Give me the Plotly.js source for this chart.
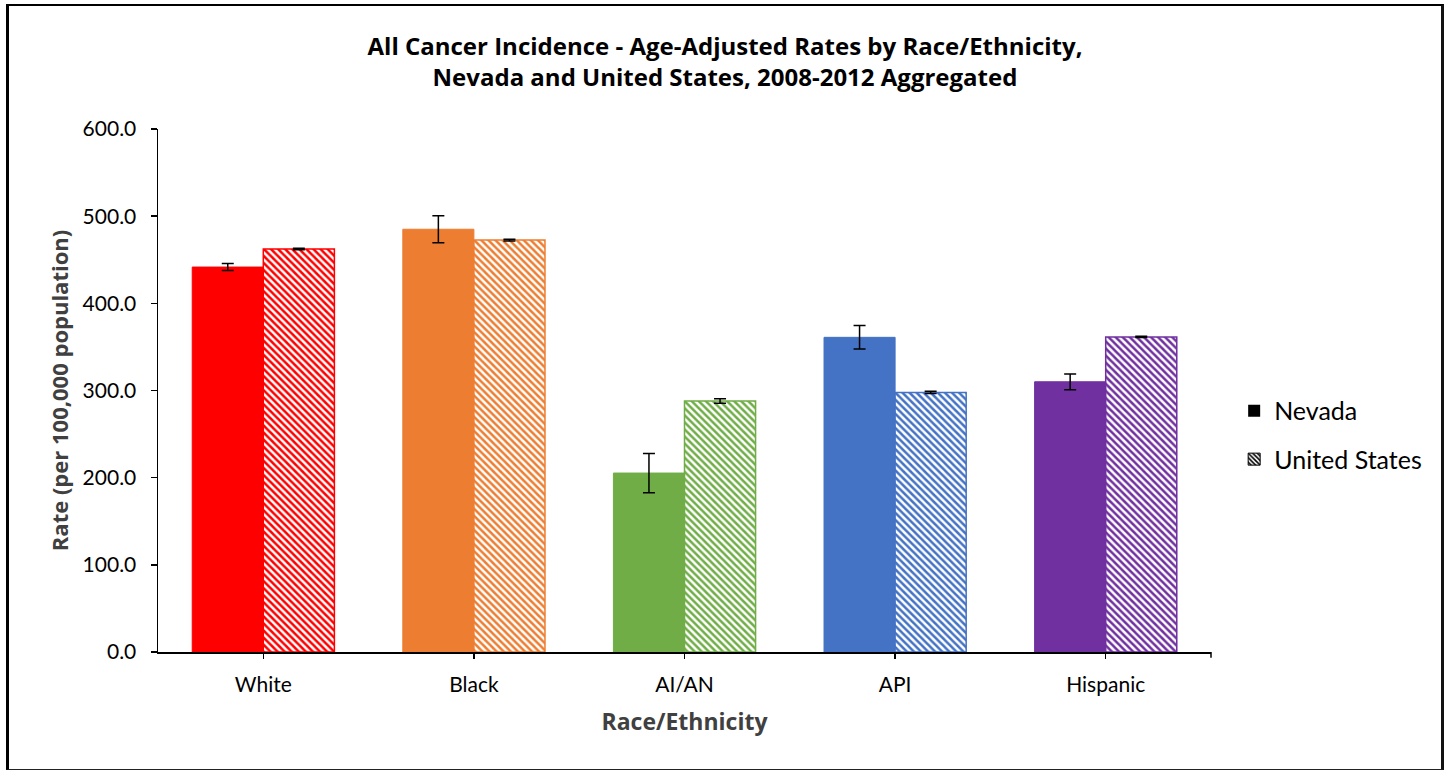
<!DOCTYPE html>
<html>
<head>
<meta charset="utf-8">
<script src="https://cdn.plot.ly/plotly-3.0.1.min.js"></script>
<style>
  html, body { margin: 0; padding: 0; background: #fff; }
  #wrap { position: relative; width: 1450px; height: 771px; }
  #chart { position: absolute; left: 0; top: 0; width: 1450px; height: 771px; }
  #frame { position: absolute; left: 6px; top: 4px; width: 1438px; height: 766px;
           border-left: 3px solid #000; border-top: 2px solid #000; border-right: 3px solid #111; border-bottom: 1px solid #222;
           box-sizing: border-box; pointer-events: none; }
</style>
</head>
<body>
<div id="wrap">
  <div id="chart"></div>
  <div id="frame"></div>
</div>
<script>
const categories = ["White", "Black", "AI/AN", "API", "Hispanic"];
const colors = ["#FF0000", "#ED7D31", "#70AD47", "#4472C4", "#7030A0"];
const nevadaRates = [441.6, 485.0, 205.3, 361.0, 310.0];
const nevadaErr = [4.0, 15.5, 22.5, 13.5, 9.0];
const usRates = [462.3, 472.6, 288.0, 297.8, 361.5];
const usErr = [0.8, 1.0, 2.5, 1.2, 0.8];
const yTicks = [0, 100, 200, 300, 400, 500, 600];

const FONT = "Lato, 'Open Sans', sans-serif";
const TFONT = "'Open Sans', Lato, sans-serif";

const nevada = {
  type: "bar", name: "Nevada", x: categories, y: nevadaRates,
  offsetgroup: "nv", showlegend: false, hoverinfo: "y",
  marker: { color: colors, line: { color: colors, width: 1 } },
  error_y: { type: "data", array: nevadaErr, visible: true, color: "#000", thickness: 1.5, width: 6 }
};
const us = {
  type: "bar", name: "United States", x: categories, y: usRates,
  offsetgroup: "us", showlegend: false, hoverinfo: "y",
  marker: {
    color: "#ffffff",
    line: { color: colors, width: 1.5 },
    pattern: { shape: "\\", fgcolor: colors, bgcolor: "#ffffff", size: 5, solidity: 0.5, fillmode: "replace" }
  },
  error_y: { type: "data", array: usErr, visible: true, color: "#000", thickness: 1.5, width: 6 }
};
const legNv = {
  type: "bar", name: "Nevada", x: [categories[0]], y: [null], offsetgroup: "nv",
  legendgroup: "a", marker: { color: "#000", line: { color: "#000", width: 0 } }
};
const legUs = {
  type: "bar", name: "United States", x: [categories[0]], y: [null], offsetgroup: "us",
  legendgroup: "b",
  marker: { color: "#fff", line: { color: "#000", width: 1 },
    pattern: { shape: "\\", fgcolor: "#000", bgcolor: "#fff", size: 4, solidity: 0.5, fillmode: "replace" } }
};

const layout = {
  width: 1450, height: 771,
  margin: { l: 158, r: 239, t: 129, b: 119 },
  paper_bgcolor: "#fff", plot_bgcolor: "#fff",
  font: { family: FONT, color: "#000", size: 21 },
  title: {
    text: "<b>All Cancer Incidence - Age-Adjusted Rates by Race/Ethnicity,<br>Nevada and United States, 2008-2012 Aggregated</b>",
    font: { family: TFONT, size: 24, color: "#000" },
    x: 0.5, xref: "container", xanchor: "center", yref: "container", y: 0.929, yanchor: "top"
  },
  barmode: "group", bargap: 0.325, bargroupgap: 0,
  xaxis: {
    type: "category", showline: true, linecolor: "#000", linewidth: 1.5,
    ticks: "outside", ticklen: 5, tickcolor: "#000", tickwidth: 1.5,
    showgrid: false, zeroline: false, ticklabelstandoff: 8,
    tickfont: { family: FONT, size: 21, color: "#000" },
    title: { text: "<b>Race/Ethnicity</b>", font: { family: TFONT, size: 23, color: "#404040" }, standoff: 19 }
  },
  yaxis: {
    range: [0, 600], tickvals: yTicks, tickformat: ".1f",
    showline: true, linecolor: "#000", linewidth: 1.5,
    ticks: "outside", ticklen: 6, tickcolor: "#000", tickwidth: 1.5,
    showgrid: false, zeroline: false, ticklabelstandoff: 10,
    tickfont: { family: FONT, size: 21, color: "#000" },
    title: { text: "<b>Rate (per 100,000 population)</b>", font: { family: TFONT, size: 22, color: "#404040" }, standoff: 8 }
  },
  legend: {
    x: 1.022, xanchor: "left", y: 0.505, yanchor: "top",
    font: { family: FONT, size: 25, color: "#000" },
    traceorder: "grouped", tracegroupgap: 13, itemwidth: 30
  },
  shapes: [
    { type: "line", xref: "paper", yref: "paper", x0: 1, x1: 1, y0: 0, y1: -0.011, line: { color: "#000", width: 1.5 } }
  ]
};

Plotly.newPlot("chart", [nevada, us, legNv, legUs], layout, { displayModeBar: false, staticPlot: true });
</script>
</body>
</html>
